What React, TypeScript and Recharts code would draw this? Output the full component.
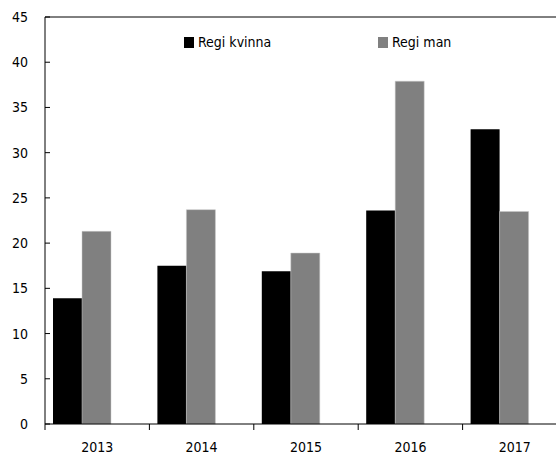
import { BarChart, Bar, XAxis, YAxis, ReferenceLine } from 'recharts';

const years = ['2013', '2014', '2015', '2016', '2017'];
const regiKvinna = [13.9, 17.5, 16.9, 23.6, 32.6];
const regiMan = [21.3, 23.7, 18.9, 37.9, 23.5];
const yTicks = [0, 5, 10, 15, 20, 25, 30, 35, 40, 45];

const FONT = "'DejaVu Sans Condensed', 'DejaVu Sans', sans-serif";

const data = years.map((year, i) => ({
  year,
  kvinna: regiKvinna[i],
  man: regiMan[i],
}));

// ticks point inward from the y axis, labels sit well left of it
const YTick = ({ x, y, payload }: any) => (
  <g>
    <line x1={x} x2={x + 5} y1={y} y2={y} stroke="#000" strokeWidth={1} />
    <text x={x - 17} y={y} dy={5} textAnchor="end" fontFamily={FONT} fontSize={14} fill="#000">
      {payload.value}
    </text>
  </g>
);

// ticks go at the category boundaries, labels in the middle
const XTick = ({ x, y, payload, bandSize }: any) => {
  const half = bandSize / 2;
  return (
    <g>
      <line x1={x - half} x2={x - half} y1={y} y2={y + 6} stroke="#000" strokeWidth={1} />
      <text x={x} y={y + 28} textAnchor="middle" fontFamily={FONT} fontSize={14} fill="#000">
        {payload.value}
      </text>
    </g>
  );
};

const legendItems = [
  { name: 'Regi kvinna', color: '#000000' },
  { name: 'Regi man', color: '#808080' },
];

export default function App() {
  const plotWidth = 522;
  return (
    // fixed to the viewport so the body margin doesn't clip the edges
    <div style={{ position: 'fixed', top: 0, left: 0, width: 556, height: 454, overflow: 'hidden', background: '#fff' }}>
      <BarChart
        width={45 + plotWidth + 10}
        height={454}
        data={data}
        margin={{ top: 17, right: 10, left: 0, bottom: 0 }}
        barCategoryGap={8}
        barGap={0}
      >
        <ReferenceLine y={45} stroke="#000" strokeWidth={1} />
        <XAxis
          dataKey="year"
          axisLine={{ stroke: '#000', strokeWidth: 1 }}
          tickLine={false}
          tickSize={0}
          tickMargin={0}
          interval={0}
          height={30}
          tick={(props: any) => <XTick {...props} bandSize={plotWidth / years.length} />}
        />
        <YAxis
          width={45}
          domain={[0, 45]}
          ticks={yTicks}
          interval={0}
          axisLine={{ stroke: '#000', strokeWidth: 1 }}
          tickLine={false}
          tickSize={0}
          tickMargin={0}
          tick={<YTick />}
        />
        <Bar dataKey="kvinna" name="Regi kvinna" fill="#000000" isAnimationActive={false} />
        <Bar dataKey="man" name="Regi man" fill="#808080" stroke="#c8c8c8" strokeWidth={0.5} isAnimationActive={false} />
        <Bar dataKey="ovrigt" name="" fill="transparent" isAnimationActive={false} />
      </BarChart>
      <div
        style={{
          position: 'absolute',
          top: 34,
          left: 184,
          display: 'flex',
          fontFamily: FONT,
          fontSize: 14,
          color: '#000',
        }}
      >
        {legendItems.map((item) => (
          <div key={item.name} style={{ width: 194, display: 'flex', alignItems: 'center' }}>
            <span style={{ display: 'inline-block', width: 10, height: 11, background: item.color, marginRight: 4 }} />
            <span>{item.name}</span>
          </div>
        ))}
      </div>
    </div>
  );
}
